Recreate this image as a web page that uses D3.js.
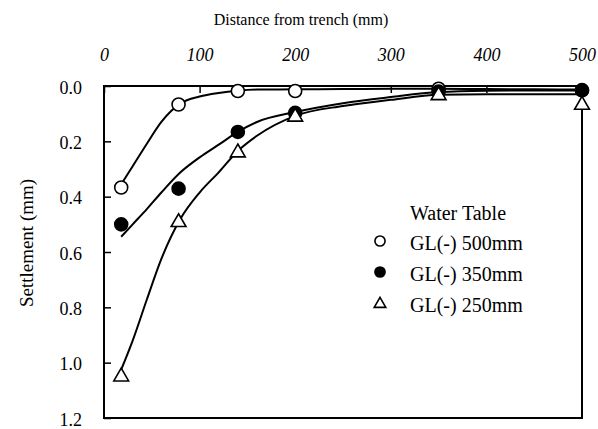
<!DOCTYPE html>
<html>
<head>
<meta charset="utf-8">
<script src="https://cdn.jsdelivr.net/npm/d3@7"></script>
<style>
  html, body { margin: 0; padding: 0; background: #fff; }
  svg { display: block; }
  text { font-family: "Liberation Serif", "Times New Roman", serif; fill: #000; }
</style>
</head>
<body>
<svg id="chart" width="598" height="429"></svg>
<script>
// Measured points: distance from trench (mm) vs settlement (mm)
const distances = [18, 78, 140, 200, 350, 500];
const wt500 = [0.367, 0.067, 0.018, 0.018, 0.010, 0.015];
const wt350 = [0.500, 0.371, 0.166, 0.097, 0.020, 0.016];
const wt250 = [1.047, 0.489, 0.237, 0.108, 0.030, 0.065];

// Fitted trend curves, sampled along the distance axis
const fitDistances = [18, 30, 45, 60, 80, 100, 120, 140, 160, 200, 250, 300, 350, 400, 450, 500];
const fit500 = [0.355, 0.29, 0.208, 0.13, 0.063, 0.038, 0.025, 0.017, 0.013, 0.012, 0.011, 0.010, 0.010, 0.011, 0.012, 0.013];
const fit350 = [0.545, 0.50, 0.444, 0.385, 0.312, 0.258, 0.212, 0.166, 0.13, 0.094, 0.062, 0.040, 0.022, 0.017, 0.016, 0.016];
const fit250 = [1.025, 0.92, 0.77, 0.625, 0.48, 0.385, 0.312, 0.235, 0.18, 0.108, 0.072, 0.050, 0.032, 0.030, 0.030, 0.030];

const xTicks = [0, 100, 200, 300, 400, 500];
const yTicks = [0, 0.2, 0.4, 0.6, 0.8, 1.0, 1.2];

const legendTitle = "Water Table";
const seriesNames = ["GL(-) 500mm", "GL(-) 350mm", "GL(-) 250mm"];
const seriesSymbols = ["open", "filled", "triangle"];

const svg = d3.select("#chart");
const margin = { left: 104, right: 16, top: 86, bottom: 10 };
const plotW = 582 - margin.left;
const plotH = 418 - margin.top;

const x = d3.scaleLinear().domain([0, 500]).range([0, plotW]);
const y = d3.scaleLinear().domain([0, 1.2]).range([0, plotH]);

const g = svg.append("g").attr("transform", `translate(${margin.left},${margin.top})`);

// Top distance axis, ticks pointing into the plot
const xAxis = d3.axisTop(x).tickValues(xTicks).tickFormat(d3.format("d"))
  .tickSizeInner(-7).tickSizeOuter(0).tickPadding(25);
const gx = g.append("g").call(xAxis);
gx.select(".domain").remove();
gx.selectAll(".tick line").attr("stroke", "#000").attr("stroke-width", 1.5);
gx.selectAll(".tick text").style("font-size", "18px").style("font-style", "italic");

// Left settlement axis
const yAxis = d3.axisLeft(y).tickValues(yTicks).tickFormat(d3.format(".1f"))
  .tickSizeInner(-7).tickSizeOuter(0).tickPadding(22);
const gy = g.append("g").call(yAxis);
gy.select(".domain").remove();
gy.selectAll(".tick line").attr("stroke", "#000").attr("stroke-width", 1.5);
gy.selectAll(".tick text").style("font-size", "18px").attr("dy", "0.4em");

// Plot frame
g.append("rect").attr("x", 0).attr("y", 0).attr("width", plotW).attr("height", plotH)
  .attr("fill", "none").attr("stroke", "#000").attr("stroke-width", 2);

// Axis titles
svg.append("text").attr("x", 301).attr("y", 25).attr("text-anchor", "middle")
  .style("font-size", "16px").text("Distance from trench (mm)");
svg.append("text").attr("transform", "translate(26,243) rotate(-90)")
  .attr("text-anchor", "middle").attr("dy", "0.35em")
  .style("font-size", "19px").text("Settlement (mm)");

// Trend curves
const line = d3.line().x((d, i) => x(fitDistances[i])).y(d => y(d)).curve(d3.curveMonotoneX);
[fit500, fit350, fit250].forEach(f => {
  g.append("path").datum(f).attr("d", line)
    .attr("fill", "none").attr("stroke", "#000").attr("stroke-width", 2);
});

// Markers
const triPath = (s) => d3.symbol().type(d3.symbolTriangle).size(s)();
function drawMarker(sel, kind, cx, cy, scale) {
  if (kind === "triangle") {
    sel.append("path").attr("d", triPath(95 * scale * scale))
      .attr("transform", `translate(${cx},${cy + 1})`)
      .attr("fill", "#fff").attr("stroke", "#000").attr("stroke-width", 1.6);
  } else {
    sel.append("circle").attr("cx", cx).attr("cy", cy).attr("r", 6.5 * scale)
      .attr("fill", kind === "filled" ? "#000" : "#fff")
      .attr("stroke", "#000").attr("stroke-width", 1.6);
  }
}
[wt500, wt350, wt250].forEach((vals, si) => {
  vals.forEach((v, i) => drawMarker(g, seriesSymbols[si], x(distances[i]), y(v), 1));
});

// Legend
const lg = svg.append("g");
lg.append("text").attr("x", 410).attr("y", 220).style("font-size", "20px").text(legendTitle);
const legendY = [242, 273, 304];
seriesNames.forEach((name, i) => {
  drawMarker(lg, seriesSymbols[i], 380, legendY[i] - 1, 0.78);
  lg.append("text").attr("x", 410).attr("y", legendY[i] + 8)
    .style("font-size", "20px").text(name);
});
</script>
</body>
</html>
